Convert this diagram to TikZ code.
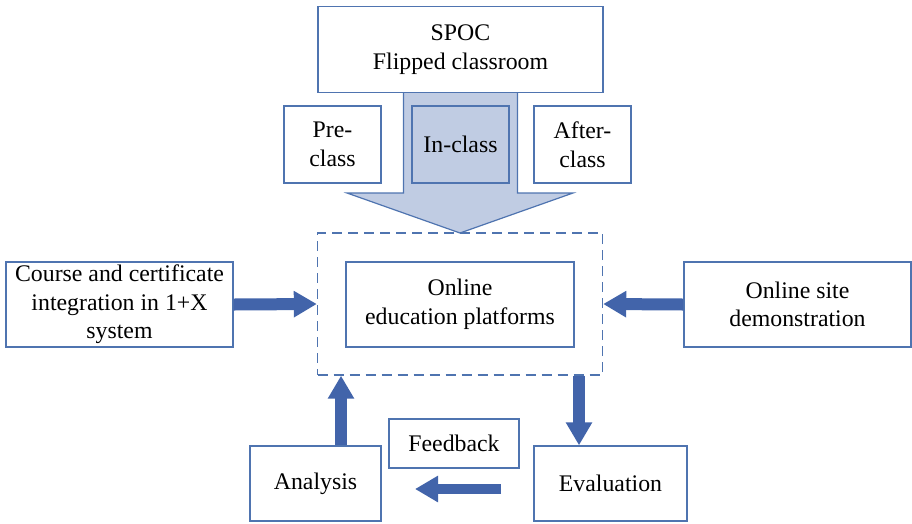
\documentclass[tikz,border=0pt]{standalone}
\usepackage{fontspec}
\setmainfont{Liberation Serif}
\usetikzlibrary{arrows.meta,calc}
\definecolor{boxline}{RGB}{79,116,176}
\definecolor{arrowfill}{RGB}{66,100,170}
\definecolor{lightfill}{RGB}{192,204,227}
\begin{document}
\begin{tikzpicture}[x=1pt,y=-1pt,
  box/.style={draw=boxline,line width=1.4pt,fill=white,rectangle,align=center,
    inner sep=0pt,font=\fontsize{23.8pt}{28.5pt}\selectfont},
  dashbox/.style={draw=boxline,line width=1.4pt,dash pattern=on 10pt off 6pt,rectangle,inner sep=0pt},
  fat/.style={draw=arrowfill,line width=12pt,-{Triangle[length=23pt,width=25pt]},fill=arrowfill},
]
\useasboundingbox (0,0) rectangle (912,523);

% top block: flipped classroom
\node[box,minimum width=285pt,minimum height=86pt] (spoc) at (460.5,49.5) {SPOC\\Flipped classroom};

% broad arrow from the flipped classroom down to the platforms
\path (spoc.south) ++(-57,0) coordinate (shl)
      (spoc.south) ++(57,0) coordinate (shr);
\coordinate (tip) at (460,233);
\filldraw[fill=lightfill,draw=boxline,line width=1.2pt]
  (shl) -- (shl |- 0,193) -- (347,193) -- (tip) -- (573,193) -- (shr |- 0,193) -- (shr);

\node[box,minimum width=97pt,minimum height=77pt] (pre) at (332.5,144.5) {Pre-\\class};
\node[box,fill=lightfill,minimum width=97pt,minimum height=77pt] (inc) at (460.5,144.5) {In-class};
\node[box,minimum width=97pt,minimum height=77pt] (after) at (582.5,144.5) {After-\\class};

% platform group
\node[dashbox,minimum width=285pt,minimum height=142pt] (platform) at (460,304) {};
\node[box,minimum width=228pt,minimum height=85pt] (online) at (460,304.5) {Online\\education platforms};

% side inputs
\node[box,minimum width=227pt,minimum height=85pt] (course) at (119.5,304.5) {Course and certificate\\integration in 1+X\\system};
\node[box,minimum width=227pt,minimum height=85pt] (site) at (797.5,304.5) {Online site\\demonstration};

% feedback loop
\node[box,minimum width=131pt,minimum height=75pt] (analysis) at (315.5,483.5) {Analysis};
\node[box,minimum width=153pt,minimum height=75pt] (evaluation) at (610.5,483.5) {Evaluation};
\node[box,minimum width=130pt,minimum height=49pt] (feedback) at (454,443.5) {Feedback};

\draw[fat] (course.east) -- (platform.west);
\draw[fat] (site.west) -- (platform.east);
\draw[fat] ([xshift=25.5pt]analysis.north) -- ([xshift=25.5pt]analysis.north |- platform.south);
\draw[fat] ([xshift=-31.5pt]evaluation.north |- platform.south) -- ([xshift=-31.5pt]evaluation.north);
\coordinate (fbstart) at (501,489);
\coordinate (fbend) at (415,489);
\draw[fat,line width=10pt] (fbstart) -- (fbend);
\end{tikzpicture}
\end{document}
